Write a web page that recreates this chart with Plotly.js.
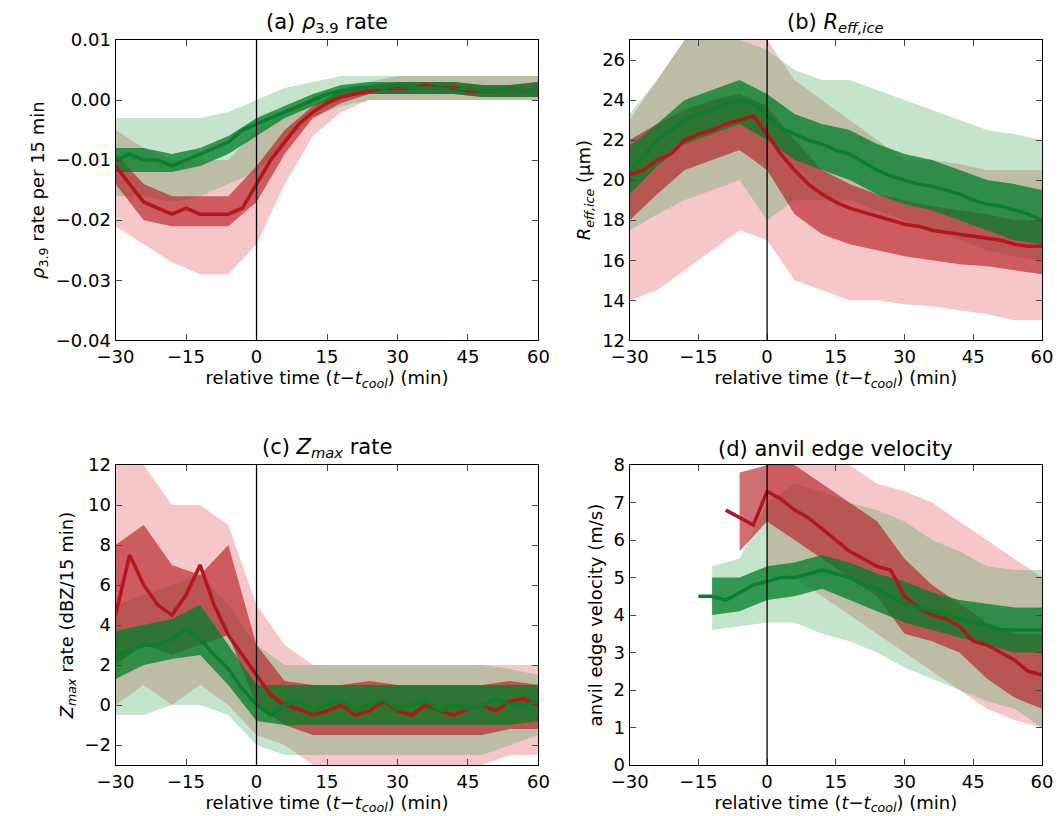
<!DOCTYPE html>
<html>
<head>
<meta charset="utf-8">
<script src="https://cdn.plot.ly/plotly-3.0.1.min.js"></script>
<style>body{margin:0;background:#fff}#plot{width:1060px;height:816px}</style>
</head>
<body>
<div id="plot"></div>
<script>
// medians every 3 min, bands every 6 min
const tLine = [];
for (let t = -30; t <= 60; t += 3) tLine.push(t);
const tBand = [-30, -24, -18, -12, -6, 0, 6, 12, 18, 24, 30, 36, 42, 48, 54, 60];

// (a) rho 3.9 rate
const aRed = [-0.011,-0.014,-0.017,-0.018,-0.019,-0.018,-0.019,-0.019,-0.019,-0.018,-0.014,-0.010,-0.007,-0.004,-0.002,-0.0005,0.0005,0.001,0.0015,0.002,0.002,0.002,0.0025,0.002,0.002,0.0015,0.0015,0.0015,0.002,0.0015,0.002];
const aGreen = [-0.010,-0.009,-0.010,-0.010,-0.011,-0.010,-0.009,-0.008,-0.007,-0.005,-0.004,-0.003,-0.002,-0.001,0.000,0.001,0.0015,0.002,0.002,0.002,0.0025,0.002,0.002,0.002,0.0015,0.002,0.0015,0.0015,0.002,0.0015,0.002];
const aRedDarkLo = [-0.014,-0.020,-0.021,-0.021,-0.021,-0.017,-0.009,-0.003,-0.0005,0.001,0.001,0.001,0.001,0.0005,0.0005,0.0005];
const aRedDarkHi = [-0.009,-0.014,-0.016,-0.016,-0.016,-0.011,-0.005,-0.001,0.0015,0.0025,0.003,0.003,0.003,0.0025,0.0025,0.003];
const aRedLightLo = [-0.021,-0.024,-0.027,-0.029,-0.029,-0.024,-0.014,-0.006,-0.002,0,0,0,0,0,0,0];
const aRedLightHi = [-0.005,-0.008,-0.010,-0.010,-0.010,-0.005,-0.002,0.0005,0.002,0.003,0.004,0.004,0.004,0.004,0.004,0.004];
const aGreenDarkLo = [-0.012,-0.012,-0.012,-0.011,-0.009,-0.006,-0.003,-0.001,0.0005,0.001,0.001,0.001,0.001,0.0005,0.0005,0.0005];
const aGreenDarkHi = [-0.008,-0.008,-0.009,-0.008,-0.006,-0.003,-0.001,0.001,0.0025,0.003,0.003,0.003,0.003,0.0025,0.0025,0.003];
const aGreenLightLo = [-0.016,-0.016,-0.017,-0.016,-0.014,-0.012,-0.007,-0.003,-0.001,0,0,0,0,0,0,0];
const aGreenLightHi = [-0.003,-0.003,-0.003,-0.003,-0.002,0,0.002,0.003,0.004,0.004,0.004,0.004,0.004,0.004,0.004,0.004];

// (b) R_eff,ice
const bRed = [20.3,20.5,21,21.3,22,22.3,22.5,22.8,23,23.2,22.3,21.3,20.5,19.8,19.3,18.9,18.6,18.4,18.2,18,17.8,17.7,17.5,17.4,17.3,17.2,17.1,17.0,16.8,16.7,16.7];
const bGreen = [20.5,21.2,22,22.5,23,23.3,23.5,23.8,24,23.8,23.2,22.6,22.3,22.0,21.8,21.5,21.3,20.9,20.5,20.2,20,19.8,19.7,19.5,19.3,19,18.8,18.7,18.5,18.3,18];
const bRedDarkLo = [18,19.3,20.5,21,21.5,20.5,18.3,17.3,16.8,16.5,16.2,16,15.8,15.7,15.5,15.3];
const bRedDarkHi = [22,22.8,23.5,24,24.3,23.7,22,20.5,19.8,19.3,19,18.7,18.5,18.3,18,18];
const bRedLightLo = [14,14.5,15.5,16.5,17.5,17,15,14.5,14,14,13.8,13.7,13.5,13.3,13,13];
const bRedLightHi = [23,25,27,27,27,27,25,24,23,22,21,21,20.8,20.5,20.5,20.5];
const bGreenDarkLo = [19.3,20.7,21.8,22.3,22.8,22,21,20.5,20,19.3,18.8,18.5,18,17.5,17,16.8];
const bGreenDarkHi = [21.7,22.8,24,24.5,25,24.3,23.3,22.8,22.5,21.8,21.3,21,20.5,20,19.8,19.5];
const bGreenLightLo = [17.5,18.3,19,19.5,20,18,19,19,19,18.5,18,17.5,17,16.5,16.2,16];
const bGreenLightHi = [23.3,25,27,27,27,26.5,25.5,25,25,24.5,24,23.5,23,22.5,22.3,22];

// (c) Zmax rate
const cRed = [4.5,7.5,6,5,4.5,5.5,7,5,3.5,2.5,1.5,0.5,0,-0.2,-0.5,-0.3,0,-0.5,-0.3,0.2,-0.3,-0.5,0,-0.3,-0.5,-0.2,0,-0.3,0.2,0.3,0];
const cGreen = [2.5,2.7,3,3,3.3,3.8,3.3,2.5,1.8,0.8,0,-0.5,0,0.2,-0.3,0,0.2,-0.3,0,0.3,-0.2,0,0.2,-0.3,0,-0.2,0,0.3,0,0,0.2];
const cRedDarkLo = [2,3,2.5,3,3.5,0,-1,-1.5,-1.5,-1.5,-1.5,-1.5,-1.5,-1.5,-1.2,-1.2];
const cRedDarkHi = [8,9,7,6.5,8,3,1.2,1,1,1.2,1,1,1,1,1.2,1];
const cRedLightLo = [0,1,0,1,0,-1.5,-2,-3,-3,-3,-3,-3,-3,-3,-2.5,-2.5];
const cRedLightHi = [12,12,10,10,9,5,3,2,2,2,2,2,2,2,2,2];
const cGreenDarkLo = [1.3,2,2.3,2.5,1,-0.8,-1,-1,-1,-1,-1,-1,-1,-1,-1,-0.8];
const cGreenDarkHi = [3.7,4,4.3,5,3,1,1,1,1,1,1,1,1,1,1,1];
const cGreenLightLo = [-0.5,-0.5,0,0,-0.5,-2,-2.5,-2.5,-2.5,-2.5,-2.5,-2.5,-2.5,-2.5,-2,-1.5];
const cGreenLightHi = [5,5.5,6,6.5,5,3,2,2,2,2,2,2,2,2,1.8,1.5];

// (d) anvil edge velocity
const dRed = [null,null,null,null,null,null,null,6.8,6.6,6.4,7.3,7.1,6.8,6.6,6.3,6,5.7,5.5,5.3,5.2,4.5,4.2,4,3.9,3.7,3.3,3.2,3.0,2.8,2.5,2.4];
const dGreen = [null,null,null,null,null,4.5,4.5,4.4,4.6,4.8,4.9,5,5,5.1,5.2,5.1,5,4.8,4.7,4.5,4.3,4.2,4.1,4,3.9,3.8,3.7,3.6,3.6,3.6,3.6];
const dRedDarkLo = [null,null,null,null,5.7,6.5,6,5.5,5,4.5,3.5,3.3,3,2.3,1.8,1.5];
const dRedDarkHi = [null,null,null,null,7.8,8,8,7.5,7,6.5,5.5,4.8,4.3,3.8,3.5,3.5];
const dRedLightLo = [null,null,null,null,null,5,5,4.5,4,3.5,3,2.5,2,1.5,1.2,1];
const dRedLightHi = [null,null,null,null,null,8,8,8,8,7.5,7.3,7,6.5,6,5.5,5];
const dGreenDarkLo = [null,null,null,4,4.1,4.4,4.5,4.7,4.4,4.1,3.8,3.6,3.4,3.2,3,3];
const dGreenDarkHi = [null,null,null,5,5,5.3,5.4,5.6,5.4,5.1,4.9,4.6,4.4,4.3,4.2,4.2];
const dGreenLightLo = [null,null,null,3.6,3.7,3.8,3.8,3.5,3.3,3,2.6,2.3,2,1.7,1.5,1];
const dGreenLightHi = [null,null,null,5.3,5.5,7,7.5,7.3,7,6.8,6.5,6,5.7,5.3,5.2,5.2];

const RED = "#b5161b", GREEN = "#0a7f2e";
const RED_DARK = "rgba(180,25,30,0.62)", RED_LIGHT = "rgba(225,80,85,0.32)";
const GREEN_DARK = "rgba(0,125,40,0.75)", GREEN_LIGHT = "rgba(60,165,85,0.30)";

const traces = [];
function keep(xs, ys) {
  const x = [], y = [];
  xs.forEach((v, i) => { if (ys[i] !== null) { x.push(v); y.push(ys[i]); } });
  return { x, y };
}
function band(n, lo, hi, color) {
  const L = keep(tBand, lo), H = keep(tBand, hi);
  const ax = { xaxis: "x" + n, yaxis: "y" + n };
  traces.push({ type: "scatter", mode: "lines", x: L.x, y: L.y, line: { width: 0 }, showlegend: false, hoverinfo: "skip", ...ax });
  traces.push({ type: "scatter", mode: "lines", x: H.x, y: H.y, line: { width: 0 }, fill: "tonexty", fillcolor: color, showlegend: false, hoverinfo: "skip", ...ax });
}
function line(n, ys, color) {
  const P = keep(tLine, ys);
  traces.push({ type: "scatter", mode: "lines", x: P.x, y: P.y, line: { color: color, width: 3.5 }, showlegend: false, xaxis: "x" + n, yaxis: "y" + n });
}
const panels = [
  [1, aRed, aGreen, aRedDarkLo, aRedDarkHi, aRedLightLo, aRedLightHi, aGreenDarkLo, aGreenDarkHi, aGreenLightLo, aGreenLightHi],
  [2, bRed, bGreen, bRedDarkLo, bRedDarkHi, bRedLightLo, bRedLightHi, bGreenDarkLo, bGreenDarkHi, bGreenLightLo, bGreenLightHi],
  [3, cRed, cGreen, cRedDarkLo, cRedDarkHi, cRedLightLo, cRedLightHi, cGreenDarkLo, cGreenDarkHi, cGreenLightLo, cGreenLightHi],
  [4, dRed, dGreen, dRedDarkLo, dRedDarkHi, dRedLightLo, dRedLightHi, dGreenDarkLo, dGreenDarkHi, dGreenLightLo, dGreenLightHi]
];
for (const p of panels) {
  const n = p[0];
  band(n, p[5], p[6], RED_LIGHT);
  band(n, p[9], p[10], GREEN_LIGHT);
  band(n, p[3], p[4], RED_DARK);
  band(n, p[7], p[8], GREEN_DARK);
  line(n, p[1], RED);
  line(n, p[2], GREEN);
}

const font = { family: "DejaVu Sans, sans-serif", size: 18, color: "#000" };
const xTitle = "relative time (<i>t</i>−<i>t<sub>cool</sub></i>) (min)";
function xa(dom, anchor) {
  return { domain: dom, anchor: anchor, range: [-30, 60], tickvals: [-30, -15, 0, 15, 30, 45, 60],
    ticktext: ["−30", "−15", "0", "15", "30", "45", "60"],
    showline: true, mirror: "ticks", linecolor: "#000", linewidth: 1, ticks: "inside", ticklen: 6,
    showgrid: false, zeroline: false, tickfont: font, title: { text: xTitle, font: font, standoff: 4 } };
}
function ya(dom, anchor, range, title) {
  return { domain: dom, anchor: anchor, range: range,
    showline: true, mirror: "ticks", linecolor: "#000", linewidth: 1, ticks: "inside", ticklen: 6,
    showgrid: false, zeroline: false, tickfont: font, title: { text: title, font: font, standoff: 6 } };
}
const xL = [0.109, 0.508], xR = [0.594, 0.983], yT = [0.583, 0.951], yB = [0.0625, 0.430];
const titles = [
  ["(a) <i>ρ</i><sub>3.9</sub> rate", 0.3085, 0.951],
  ["(b) <i>R<sub>eff,ice</sub></i>", 0.7885, 0.951],
  ["(c) <i>Z<sub>max</sub></i> rate", 0.3085, 0.430],
  ["(d) anvil edge velocity", 0.7885, 0.430]
];
const layout = {
  width: 1060, height: 816, margin: { l: 0, r: 0, t: 0, b: 0 },
  paper_bgcolor: "#fff", plot_bgcolor: "#fff", font: font,
  xaxis: xa(xL, "y"), yaxis: ya(yT, "x", [-0.04, 0.01], "<i>ρ</i><sub>3.9</sub> rate per 15 min"),
  xaxis2: xa(xR, "y2"), yaxis2: ya(yT, "x2", [12, 27], "<i>R<sub>eff,ice</sub></i> (μm)"),
  xaxis3: xa(xL, "y3"), yaxis3: ya(yB, "x3", [-3, 12], "<i>Z<sub>max</sub></i> rate (dBZ/15 min)"),
  xaxis4: xa(xR, "y4"), yaxis4: ya(yB, "x4", [0, 8], "anvil edge velocity (m/s)"),
  shapes: [1, 2, 3, 4].map(n => ({ type: "line", xref: "x" + n, yref: "y" + n + " domain", x0: 0, x1: 0, y0: 0, y1: 1, line: { color: "#000", width: 1.3 } })),
  annotations: titles.map(t => ({ text: t[0], x: t[1], y: t[2], xref: "paper", yref: "paper", xanchor: "center", yanchor: "bottom", yshift: 2, showarrow: false, font: { family: font.family, size: 21, color: "#000" } }))
};
layout.yaxis.tickvals = [-0.04, -0.03, -0.02, -0.01, 0, 0.01];
layout.yaxis.ticktext = ["−0.04", "−0.03", "−0.02", "−0.01", "0.00", "0.01"];
layout.yaxis2.tickvals = [12, 14, 16, 18, 20, 22, 24, 26];
layout.yaxis3.tickvals = [-2, 0, 2, 4, 6, 8, 10, 12];
layout.yaxis3.ticktext = ["−2", "0", "2", "4", "6", "8", "10", "12"];
layout.yaxis4.tickvals = [0, 1, 2, 3, 4, 5, 6, 7, 8];

Plotly.newPlot("plot", traces, layout, { displayModeBar: false, staticPlot: true });
</script>
</body>
</html>
